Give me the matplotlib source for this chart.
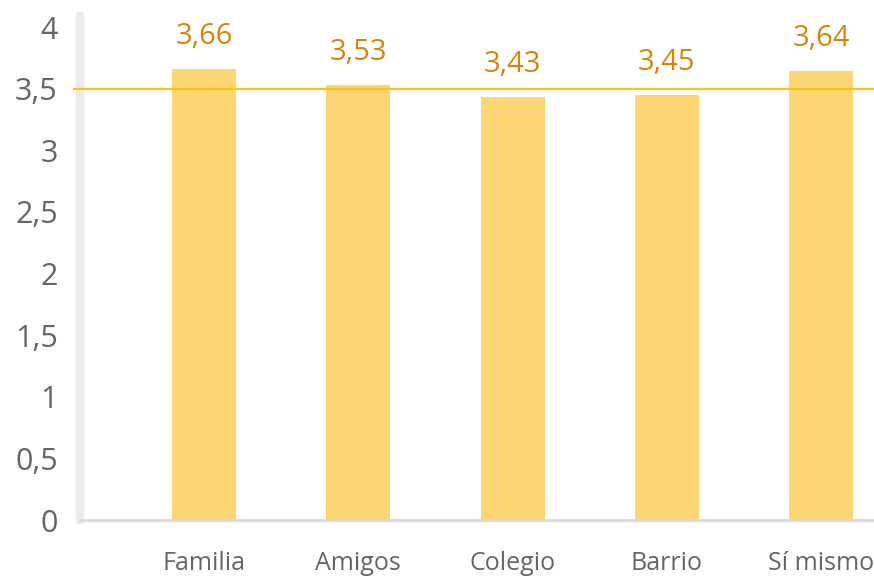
import matplotlib
matplotlib.use("Agg")
import matplotlib.pyplot as plt
import numpy as np

# Ratings per group
categories = ["Familia", "Amigos", "Colegio", "Barrio", "Sí mismo"]
values = [3.66, 3.53, 3.43, 3.45, 3.64]
reference_level = 3.5
y_ticks = [0, 0.5, 1, 1.5, 2, 2.5, 3, 3.5, 4]

plt.rcParams["font.family"] = ["Open Sans", "DejaVu Sans"]

fig = plt.figure(figsize=(8.74, 5.8), dpi=100)
ax = fig.add_axes([80 / 874, 60 / 580, 1 - 80 / 874, (520 - 16) / 580])

x = np.arange(len(categories))
ax.bar(x, values, width=0.415, color="#FCD672", zorder=2)
ax.axhline(reference_level, color="#F7C41A", linewidth=1.6, zorder=3,
           xmin=-0.007, clip_on=False)

for xi, v in zip(x, values):
    ax.annotate(f"{v:.2f}".replace(".", ","), (xi, v), xytext=(0, 13),
                textcoords="offset points", ha="center", va="bottom",
                fontsize=21, color="#D6850C")

ax.set_xlim(-0.804, 4.342)
ax.set_ylim(0, 4.09)
ax.set_xticks(x)
ax.set_xticklabels(categories)
ax.set_yticks(y_ticks)
ax.set_yticklabels([f"{t:g}".replace(".", ",") for t in y_ticks])

ax.tick_params(axis="y", length=0, pad=16, labelsize=22, labelcolor="#666666")
ax.tick_params(axis="x", length=0, pad=22, labelsize=18, labelcolor="#666666")

for side in ("top", "right"):
    ax.spines[side].set_visible(False)
ax.spines["left"].set_color("#ECECEC")
ax.spines["left"].set_linewidth(6)
ax.spines["bottom"].set_color("#DADADA")
ax.spines["bottom"].set_linewidth(2)

fig.savefig("out.png", dpi=100)
